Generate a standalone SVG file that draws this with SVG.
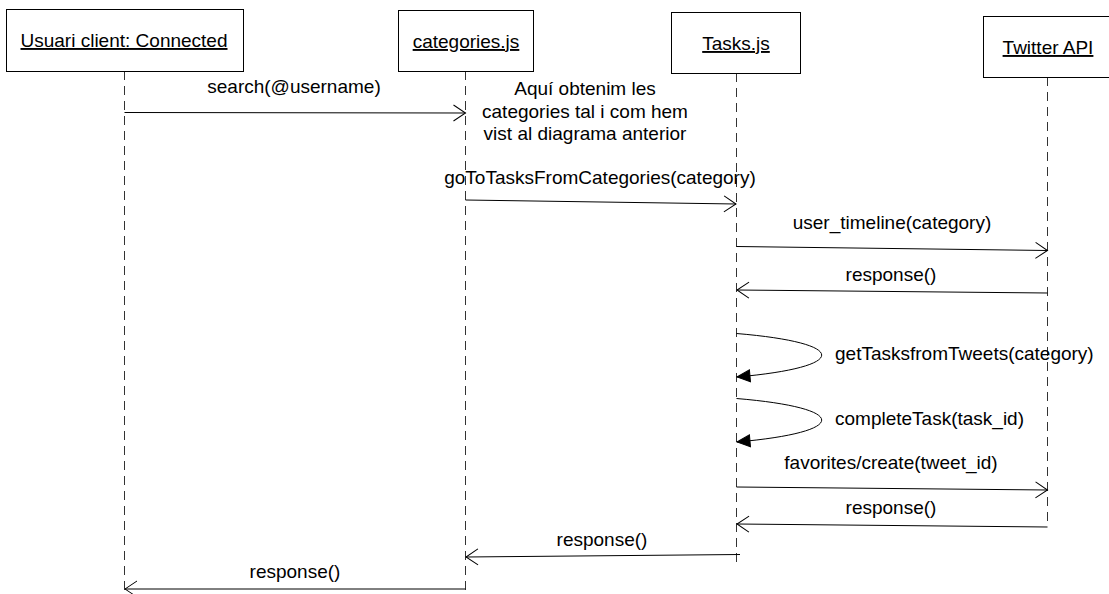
<svg xmlns="http://www.w3.org/2000/svg" width="1109" height="594" viewBox="0 0 1109 594">
<style>
  .box { fill: #ffffff; stroke: #000000; stroke-width: 1; }
  .life { stroke: #333333; stroke-width: 1; stroke-dasharray: 9 6; fill: none; }
  .msg { stroke: #000000; stroke-width: 1; fill: none; }
  .open { marker-end: url(#openArrow); }
  .self { marker-end: url(#filledArrow); }
  text { font-family: "Liberation Sans", Arial, sans-serif; font-size: 19px; fill: #000000; }
  .title { text-anchor: middle; text-decoration: underline; }
  .lbl { text-anchor: middle; }
</style>
<defs>
  <marker id="openArrow" viewBox="-14 -10 16 20" markerWidth="16" markerHeight="20" refX="0" refY="0" orient="auto" markerUnits="userSpaceOnUse">
    <path d="M-12,-8 L0,0 L-12,8" fill="none" stroke="#000000" stroke-width="1"/>
  </marker>
  <marker id="filledArrow" viewBox="-14 -8 16 16" markerWidth="16" markerHeight="16" refX="0" refY="0" orient="auto" markerUnits="userSpaceOnUse">
    <path d="M-13,-6 L0,0 L-13,6 Z" fill="#000000" stroke="#000000" stroke-width="1"/>
  </marker>
</defs>
<rect width="1109" height="594" fill="#ffffff"/>

<g id="lifelines">
  <line class="life" x1="124.5" y1="71" x2="124.5" y2="594"/>
  <line class="life" x1="465.5" y1="71" x2="465.5" y2="594"/>
  <line class="life" x1="736.5" y1="73" x2="736.5" y2="562"/>
  <line class="life" x1="1047.5" y1="77" x2="1047.5" y2="527"/>
</g>

<g id="node-client">
  <rect class="box" x="6.5" y="9.5" width="237" height="62"/>
  <text class="title" x="124" y="47">Usuari client: Connected</text>
</g>
<g id="node-categories">
  <rect class="box" x="398.5" y="10.5" width="135" height="61"/>
  <text class="title" x="466" y="48">categories.js</text>
</g>
<g id="node-tasks">
  <rect class="box" x="671.5" y="12.5" width="129" height="61"/>
  <text class="title" x="736" y="50">Tasks.js</text>
</g>
<g id="node-twitter">
  <rect class="box" x="983.5" y="16.5" width="130" height="61"/>
  <text class="title" x="1048" y="54">Twitter API</text>
</g>

<g id="note">
  <text class="lbl" x="585" y="95">Aquí obtenim les</text>
  <text class="lbl" x="585" y="117.5">categories tal i com hem</text>
  <text class="lbl" x="585" y="140">vist al diagrama anterior</text>
</g>

<g id="connectors">
  <line class="msg open" x1="124.5" y1="112.5" x2="465.5" y2="113"/>
  <text class="lbl" x="294" y="93">search(@username)</text>

  <line class="msg open" x1="465.5" y1="200" x2="736" y2="204"/>
  <text class="lbl" x="600" y="184">goToTasksFromCategories(category)</text>

  <line class="msg open" x1="736.5" y1="246.5" x2="1047.5" y2="250.5"/>
  <text class="lbl" x="892" y="229">user_timeline(category)</text>

  <line class="msg open" x1="1047.5" y1="293" x2="737" y2="290"/>
  <text class="lbl" x="891" y="281">response()</text>

  <path class="msg self" d="M736.5,333.5 C850,343 850,367 737,377"/>
  <text x="835" y="360">getTasksfromTweets(category)</text>

  <path class="msg self" d="M736.5,398.5 C850,408 850,432 737,442"/>
  <text x="835" y="425">completeTask(task_id)</text>

  <line class="msg open" x1="736.5" y1="487" x2="1047.5" y2="490"/>
  <text class="lbl" x="891" y="469">favorites/create(tweet_id)</text>

  <line class="msg open" x1="1047.5" y1="527" x2="737" y2="524"/>
  <text class="lbl" x="891" y="514">response()</text>

  <line class="msg open" x1="740" y1="554.5" x2="466" y2="557"/>
  <text class="lbl" x="602" y="546">response()</text>

  <line class="msg open" x1="465.5" y1="589" x2="125" y2="589"/>
  <text class="lbl" x="295" y="578">response()</text>
</g>
</svg>
